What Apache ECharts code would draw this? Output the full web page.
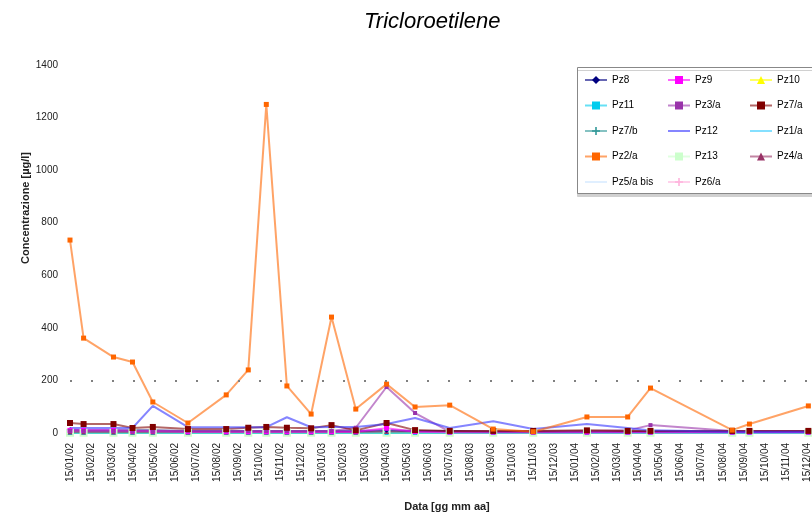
<!DOCTYPE html>
<html>
<head>
<meta charset="utf-8">
<script src="https://cdn.jsdelivr.net/npm/echarts@6/dist/echarts.min.js"></script>
<style>html,body{margin:0;padding:0;background:#fff}#c{width:812px;height:513px}</style>
</head>
<body>
<div id="c"></div>
<script>
// ---- data ----
const tickLabels = [
 "15/01/02","15/02/02","15/03/02","15/04/02","15/05/02","15/06/02","15/07/02","15/08/02","15/09/02","15/10/02","15/11/02","15/12/02",
 "15/01/03","15/02/03","15/03/03","15/04/03","15/05/03","15/06/03","15/07/03","15/08/03","15/09/03","15/10/03","15/11/03","15/12/03",
 "15/01/04","15/02/04","15/03/04","15/04/04","15/05/04","15/06/04","15/07/04","15/08/04","15/09/04","15/10/04","15/11/04","15/12/04"
];
const sampleDates = [
 "15/01/02","04/02/02","17/03/02","14/04/02","13/05/02","03/07/02","28/08/02","29/09/02","25/10/02","24/11/02","29/12/02","28/01/03",
 "03/03/03","16/04/03","27/05/03","16/07/03","18/09/03","15/11/03","01/02/04","30/03/04","02/05/04","29/08/04","23/09/04","17/12/04"
];
const pz8    = [12,10,10,10,10,8,8,8,8,8,8,8,8,10,8,8,5,5,5,5,5,5,5,5];
const pz9    = [10,10,10,8,8,5,5,5,5,5,5,5,5,18,5,3,3,3,3,3,3,3,3,3];
const pz10   = [1,1,1,1,1,1,1,1,1,1,1,1,1,2,1,1,1,1,1,1,1,1,1,1];
const pz11   = [0,0,0,0,0,0,0,0,0,0,0,0,0,0,0,0,0,0,0,0,0,0,0,0];
const pz3a   = [8,8,8,8,8,8,8,8,8,8,8,8,20,175,76,5,5,5,8,10,30,8,8,8];
const pz7a   = [38,34,34,19,23,15,15,20,23,20,18,30,10,38,11,8,8,8,10,8,8,8,8,8];
const pz7b   = [1,1,1,1,1,1,1,1,1,1,1,1,1,1,1,1,1,1,1,1,1,1,1,1];
const pz12   = [19,19,19,19,103,22,22,22,22,60,22,23,23,34,57,19,45,15,34,19,10,5,5,5];
const pz1a   = [0,0,0,0,0,0,0,0,0,0,0,0,0,0,0,0,0,0,0,0,0,0,0,0];
const pz2a   = [734,361,289,270,118,38,145,240,1250,179,72,441,91,186,99,106,15,5,61,61,171,11,34,103];
const pz13   = [1,1,1,1,1,1,1,1,1,1,1,1,1,1,1,1,1,1,1,1,1,1,1,1];
const pz4a   = [4,4,4,4,4,4,4,4,4,4,4,4,4,6,6,7,7,7,7,7,7,7,7,7];
const pz5abis= [2,2,2,2,2,2,2,2,2,2,2,2,2,2,2,2,2,2,2,2,2,2,2,2];
const pz6a   = [4,4,4,4,4,4,4,4,4,4,4,4,4,4,4,4,4,4,4,4,4,4,4,4];
const yTicks = [0,200,400,600,800,1000,1200,1400];
const threshold = 200;

// ---- helpers ----
function parseD(s){ const p = s.split('/').map(Number); return {d:p[0], m:p[1], y:2000+p[2]}; }
const anchor = parseD(tickLabels[0]);
function monthPos(s){
  const a = parseD(s);
  const t = Date.UTC(a.y, a.m-1, a.d);
  let k = (a.y-anchor.y)*12 + (a.m-anchor.m) - (a.d < anchor.d ? 1 : 0);
  const T0 = Date.UTC(anchor.y, anchor.m-1+k, anchor.d);
  const T1 = Date.UTC(anchor.y, anchor.m-1+k+1, anchor.d);
  return k + (t-T0)/(T1-T0);
}
const xs = sampleDates.map(monthPos);
function pts(vals){ return vals.map((v,i)=> [xs[i], v]); }

const plus = 'path://M4,0H6V4H10V6H6V10H4V6H0V4H4Z';
const seriesDefs = [
  {name:'Pz1/a', data:pz1a, color:'#33ccff', symbol:'none'},
  {name:'Pz5/a bis', data:pz5abis, color:'#cce5ff', symbol:'none'},
  {name:'Pz6/a', data:pz6a, color:'#ffb3dd', symbol:plus, size:5},
  {name:'Pz7/b', data:pz7b, color:'#339999', symbol:plus, size:5},
  {name:'Pz10', data:pz10, color:'#ffff00', symbol:'triangle', size:6},
  {name:'Pz13', data:pz13, color:'#ccffcc', symbol:'rect', size:8},
  {name:'Pz11', data:pz11, color:'#00ccee', symbol:'rect', size:4},
  {name:'Pz4/a', data:pz4a, color:'#993366', symbol:'triangle', size:5},
  {name:'Pz8', data:pz8, color:'#000080', symbol:'diamond', size:5},
  {name:'Pz9', data:pz9, color:'#ff00ff', symbol:'rect', size:5},
  {name:'Pz3/a', data:pz3a, color:'#9933aa', symbol:'rect', size:4},
  {name:'Pz7/a', data:pz7a, color:'#800000', symbol:'rect', size:6},
  {name:'Pz12', data:pz12, color:'#3333ff', symbol:'none'},
  {name:'Pz2/a', data:pz2a, color:'#ff6600', symbol:'rect', size:5}
];
const noMarker = seriesDefs.filter(s => s.symbol === 'none').map(s => s.name);

const series = seriesDefs.map(s => ({
  name: s.name, type:'line', data: pts(s.data),
  symbol: s.symbol === 'none' ? 'circle' : s.symbol, symbolSize: s.size || 4, showSymbol: s.symbol !== 'none',
  itemStyle:{color:s.color},
  lineStyle:{color:s.color, width:2, opacity:0.6},
  connectNulls:true, animation:false
}));
series[series.length-1].markLine = {
  silent:true, symbol:'none', label:{show:false}, animation:false,
  lineStyle:{color:'#808080', width:2, type:[2,19], opacity:1},
  data:[{yAxis:threshold}]
};

const legendText = {fontSize:10, color:'#000', fontFamily:'Liberation Sans, Arial, sans-serif'};
const mkLegend = (data, left) => ({
  orient:'vertical', left:left, top:75,
  data:data.map(n => noMarker.includes(n) ? {name:n, itemStyle:{opacity:0}} : n),
  itemWidth:22, itemHeight:10, itemGap:15.5,
  padding:0, textStyle:legendText, selectedMode:false
});

const chart = echarts.init(document.getElementById('c'), null, {renderer:'canvas'});
chart.setOption({
  animation:false,
  backgroundColor:'#fff',
  title:{text:'Tricloroetilene', left:359, top:6,
    textStyle:{fontSize:22, fontStyle:'italic', fontWeight:'normal', color:'#000', fontFamily:'Liberation Sans, Arial, sans-serif'}},
  grid:{left:70, top:65, width:744, height:368},
  xAxis:{type:'value', min:0, max:744/21.14, interval:1,
    axisLine:{show:false}, axisTick:{show:false}, splitLine:{show:false},
    axisLabel:{rotate:90, fontSize:10, color:'#222', margin:10, fontFamily:'Liberation Sans, Arial, sans-serif',
      showMaxLabel:false,
      formatter:v => Number.isInteger(v) && tickLabels[v] ? tickLabels[v] : ''}},
  yAxis:{type:'value', min:yTicks[0], max:yTicks[yTicks.length-1], interval:yTicks[1]-yTicks[0],
    axisLine:{show:false}, axisTick:{show:false}, splitLine:{show:false},
    axisLabel:{fontSize:10, color:'#222', margin:12, fontFamily:'Liberation Sans, Arial, sans-serif',
      formatter:v => String(v)}},
  legend:[
    mkLegend(['Pz8','Pz11','Pz7/b','Pz2/a','Pz5/a bis'], 584),
    mkLegend(['Pz9','Pz3/a','Pz12','Pz13','Pz6/a'], 667),
    mkLegend(['Pz10','Pz7/a','Pz1/a','Pz4/a'], 749)
  ],
  graphic:[
    {type:'rect', left:577, top:67, z:0, shape:{width:250, height:126},
      style:{fill:'#fff', stroke:'#888', lineWidth:1, shadowColor:'#d0d0d0', shadowOffsetX:0, shadowOffsetY:3, shadowBlur:0}},
    {type:'text', x:447, y:507, style:{text:'Data [gg mm aa]', font:'bold 11px "Liberation Sans", Arial, sans-serif', fill:'#222', textAlign:'center', textVerticalAlign:'middle'}},
    {type:'text', x:26, y:208, rotation:Math.PI/2, style:{text:'Concentrazione [µg/l]', font:'bold 11px "Liberation Sans", Arial, sans-serif', fill:'#222', textAlign:'center', textVerticalAlign:'middle'}}
  ],
  series: series
});
</script>
</body>
</html>
